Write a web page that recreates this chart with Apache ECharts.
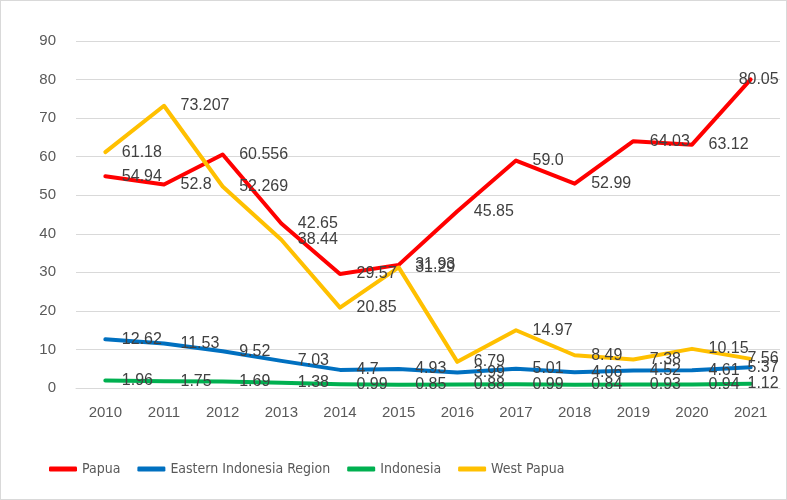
<!DOCTYPE html>
<html>
<head>
<meta charset="utf-8">
<script src="https://cdn.jsdelivr.net/npm/echarts@6/dist/echarts.min.js"></script>
<style>
html,body{margin:0;padding:0;background:#fff;}
#chart{width:785px;height:498px;border:1px solid #d9d9d9;}
</style>
</head>
<body>
<div id="chart"></div>
<script>
var years = ['2010','2011','2012','2013','2014','2015','2016','2017','2018','2019','2020','2021'];
var papua = [54.94, 52.8, 60.556, 42.65, 29.57, 31.93, 45.85, 59.0, 52.99, 64.03, 63.12, 80.05];
var eastern = [12.62, 11.53, 9.52, 7.03, 4.7, 4.93, 3.99, 5.01, 4.06, 4.52, 4.61, 5.37];
var indonesia = [1.96, 1.75, 1.69, 1.38, 0.99, 0.85, 0.88, 0.99, 0.84, 0.93, 0.94, 1.12];
var westPapua = [61.18, 73.207, 52.269, 38.44, 20.85, 31.29, 6.79, 14.97, 8.49, 7.38, 10.15, 7.56];
var yTicks = [0, 90, 10]; // min, max, interval

var font = "'Liberation Sans',sans-serif";
var narrow = "'DejaVu Sans Condensed','Liberation Sans Narrow','Liberation Sans',sans-serif";

function makeData(arr){
  // last point: Excel pulls the label back inside the chart
  return arr.map(function(v, i){
    if (i === arr.length - 1) {
      return {value: v, label: {position: 'inside', align: 'right', offset: [28, 0]}};
    }
    return v;
  });
}

function line(name, arr, color){
  return {
    name: name,
    type: 'line',
    data: makeData(arr),
    symbol: 'circle',
    symbolSize: 1,
    itemStyle: {color: color},
    lineStyle: {color: color, width: 4, cap: 'round', join: 'round'},
    label: {
      show: true,
      position: 'right',
      distance: 16,
      color: '#404040',
      fontSize: 16,
      fontFamily: font,
      formatter: function(p){
        // source shows 59.0 with its trailing zero
        return (name === 'Papua' && p.value === 59) ? '59.0' : String(p.value);
      }
    },
    emphasis: {disabled: true},
    animation: false
  };
}

var chart = echarts.init(document.getElementById('chart'));
var option = {
  backgroundColor: '#fff',
  grid: {left: 75, right: 6, top: 40, bottom: 111},
  legend: {
    left: 43,
    bottom: 18,
    itemWidth: 28,
    itemHeight: 5,
    itemGap: 17,
    icon: 'roundRect',
    textStyle: {color: '#595959', fontSize: 14, fontFamily: narrow},
    data: ['Papua', 'Eastern Indonesia Region', 'Indonesia', 'West Papua']
  },
  xAxis: {
    type: 'category',
    data: years,
    boundaryGap: true,
    axisLine: {lineStyle: {color: '#d9d9d9', width: 1}},
    axisTick: {show: false},
    axisLabel: {color: '#595959', fontSize: 15, fontFamily: font, margin: 17}
  },
  yAxis: {
    type: 'value',
    min: yTicks[0],
    max: yTicks[1],
    interval: yTicks[2],
    axisLine: {show: false},
    axisTick: {show: false},
    splitLine: {lineStyle: {color: '#d9d9d9', width: 1}},
    axisLabel: {color: '#595959', fontSize: 15, fontFamily: font, margin: 20}
  },
  series: [
    line('Papua', papua, '#ff0000'),
    line('Eastern Indonesia Region', eastern, '#0070c0'),
    line('Indonesia', indonesia, '#00b050'),
    line('West Papua', westPapua, '#ffc000')
  ]
};
chart.setOption(option);
</script>
</body>
</html>
